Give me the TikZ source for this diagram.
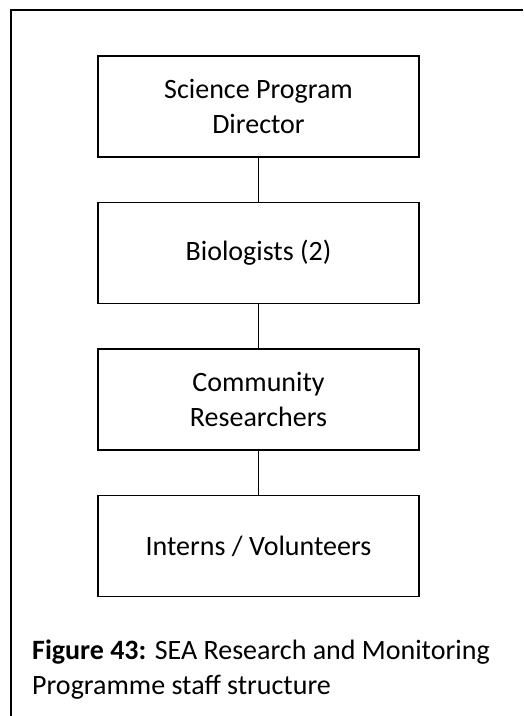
\documentclass[tikz,border=0pt]{standalone}
\usepackage{fontspec}
\setmainfont{Carlito}
\usetikzlibrary{positioning}

\begin{document}
\begin{tikzpicture}[
    x=1pt, y=-1pt,
    node distance=44pt,
    post/.style={rectangle, draw=black, line width=1.5pt, minimum width=321pt, minimum height=101pt, align=center, font=\fontsize{28}{35}\selectfont, inner sep=0pt},
    link/.style={line width=1.5pt},
  ]
    \useasboundingbox (0,0) rectangle (523,716);
    % frame, cut off at right and bottom
    \coordinate (frameA) at (11,716);
    \coordinate (frameB) at (523,10);
    \draw[line width=2pt] (frameA) |- (frameB);

    \node[post] (director) at (258.5,106.5) {Science Program\\Director};
    \node[post, below=of director] (bio) {Biologists (2)};
    \node[post, below=of bio] (comm) {Community\\Researchers};
    \node[post, below=of comm] (interns) {Interns / Volunteers};
    \draw[link] (director) -- (bio);
    \draw[link] (bio) -- (comm);
    \draw[link] (comm) -- (interns);

    % base anchor sits on the last line
    \node[anchor=base west, inner sep=0pt, align=left, font=\fontsize{28}{35}\selectfont] (caption) at (32,694)
      {\textbf{Figure 43:} SEA Research and Monitoring\\Programme staff structure};
  \end{tikzpicture}
\end{document}
